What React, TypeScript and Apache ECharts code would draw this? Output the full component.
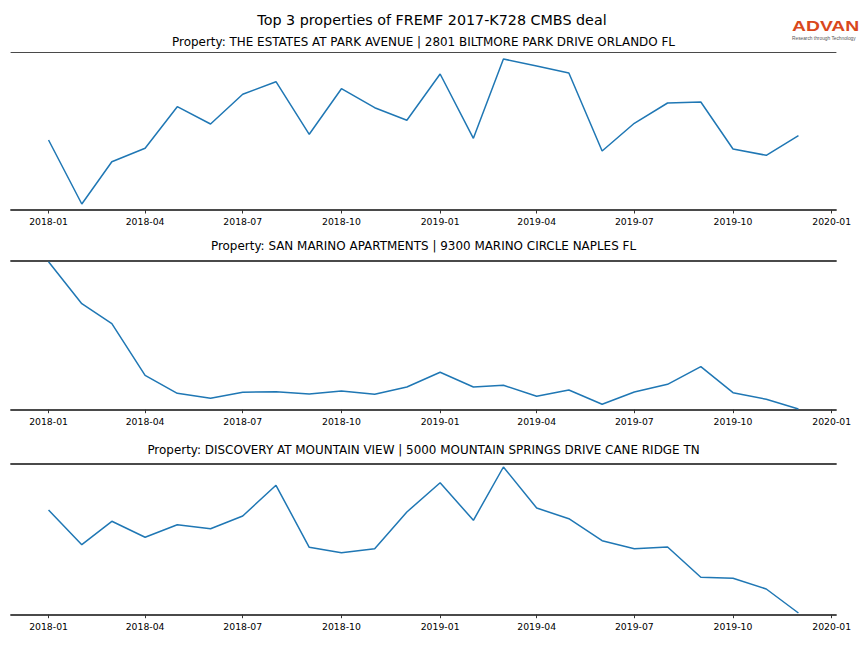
import React, { useEffect, useRef } from "react";
import * as echarts from "echarts";

const months = [
  "2018-01", "2018-02", "2018-03", "2018-04", "2018-05", "2018-06",
  "2018-07", "2018-08", "2018-09", "2018-10", "2018-11", "2018-12",
  "2019-01", "2019-02", "2019-03", "2019-04", "2019-05", "2019-06",
  "2019-07", "2019-08", "2019-09", "2019-10", "2019-11", "2019-12",
];

const tickLabels = [
  "2018-01", "2018-04", "2018-07", "2018-10",
  "2019-01", "2019-04", "2019-07", "2019-10", "2020-01",
];

const propertyTitles = [
  "Property: THE ESTATES AT PARK AVENUE | 2801 BILTMORE PARK DRIVE ORLANDO FL",
  "Property: SAN MARINO APARTMENTS | 9300 MARINO CIRCLE NAPLES FL",
  "Property: DISCOVERY AT MOUNTAIN VIEW | 5000 MOUNTAIN SPRINGS DRIVE CANE RIDGE TN",
];

const estatesValues = [
  700, 60, 483, 617, 1033, 860, 1157, 1283, 757, 1213, 1023, 897,
  1360, 717, 1510, 1440, 1370, 590, 867, 1070, 1080, 610, 547, 743,
];
const sanMarinoValues = [
  1480, 1060, 860, 344, 164, 114, 174, 180, 157, 187, 154, 227,
  374, 227, 244, 134, 197, 54, 177, 254, 430, 170, 104, 7,
];
const discoveryValues = [
  1047, 700, 934, 774, 900, 860, 987, 1294, 674, 620, 660, 1027,
  1320, 944, 1477, 1067, 960, 740, 660, 677, 374, 364, 257, 17,
];

const seriesValues = [estatesValues, sanMarinoValues, discoveryValues];
const yMaxes = [1577, 1490, 1510];

const toTs = (s: string) => {
  const [y, m] = s.split("-").map(Number);
  return Date.UTC(y, m - 1, 1);
};
const fmt = (v: number) => {
  const d = new Date(v);
  const m = d.getUTCMonth() + 1;
  return `${d.getUTCFullYear()}-${m < 10 ? "0" + m : m}`;
};

export default function App() {
  const ref = useRef<HTMLDivElement>(null);
  useEffect(() => {
    if (!ref.current) return;
    const chart = echarts.init(ref.current, null, { renderer: "svg" });
    const font = "DejaVu Sans";
    const xMin = Date.UTC(2017, 10, 27);
    const xMax = Date.UTC(2020, 0, 5);
    const tickTs = tickLabels.map(toTs);
    const grids = [
      { left: 11, width: 825, top: 52.3, height: 157.7 },
      { left: 11, width: 825, top: 260.7, height: 149 },
      { left: 11, width: 825, top: 463.7, height: 151 },
    ];
    const spine = "#4a4a4a";
    const bottomAxes = grids.map((_, i) => ({
      type: "value",
      gridIndex: i,
      position: "bottom",
      min: xMin,
      max: xMax,
      splitLine: { show: false },
      axisLine: { show: true, lineStyle: { color: spine, width: 1.8 } },
      axisTick: {
        show: true,
        length: 3.5,
        customValues: tickTs,
        lineStyle: { color: "#333", width: 1 },
      },
      axisLabel: {
        show: true,
        customValues: tickTs,
        formatter: (v: number) => fmt(v),
        fontFamily: font,
        fontSize: 9.3,
        color: "#000",
        margin: 7,
        hideOverlap: false,
      },
    }));
    const topAxes = grids.map((_, i) => ({
      type: "value",
      gridIndex: i,
      position: "top",
      min: 0,
      max: 1,
      splitLine: { show: false },
      axisTick: { show: false },
      axisLabel: { show: false },
      axisLine: {
        show: true,
        onZero: false,
        lineStyle: { color: spine, width: i === 0 ? 1 : 1.8 },
      },
    }));
    const yAxes = grids.map((_, i) => ({
      type: "value",
      gridIndex: i,
      min: 0,
      max: yMaxes[i],
      show: false,
    }));
    const series = seriesValues.map((vals, i) => ({
      type: "line",
      xAxisIndex: i,
      yAxisIndex: i,
      data: months.map((m, j) => [toTs(m), vals[j]]),
      showSymbol: false,
      symbol: "none",
      lineStyle: { color: "#1f77b4", width: 1.5 },
      clip: false,
    }));
    const subtitleY = [42, 246, 450];
    const graphics: any[] = [
      {
        type: "text",
        x: 432,
        y: 19.5,
        style: {
          text: "Top 3 properties of FREMF 2017-K728 CMBS deal",
          fontFamily: font,
          fontSize: 14.3,
          fill: "#000",
          textAlign: "center",
          textVerticalAlign: "middle",
        },
      },
      ...propertyTitles.map((t, i) => ({
        type: "text",
        x: 423.5,
        y: subtitleY[i],
        style: {
          text: t,
          fontFamily: font,
          fontSize: 11.95,
          fill: "#000",
          textAlign: "center",
          textVerticalAlign: "middle",
        },
      })),
      {
        type: "text",
        x: 792,
        y: 26,
        scaleX: 1.38,
        style: {
          text: "ADVAN",
          fontFamily: "Liberation Sans",
          fontWeight: "bold",
          fontSize: 14,
          fill: "#d9481c",
          textAlign: "left",
          textVerticalAlign: "middle",
        },
      },
      {
        type: "text",
        x: 792,
        y: 38.3,
        style: {
          text: "Research through Technology",
          fontFamily: "Liberation Sans",
          fontSize: 4.8,
          fill: "#555",
          textAlign: "left",
          textVerticalAlign: "middle",
        },
      },
    ];
    chart.setOption({
      animation: false,
      backgroundColor: "#fff",
      grid: grids,
      xAxis: [...bottomAxes, ...topAxes],
      yAxis: yAxes,
      series,
      graphic: graphics,
    } as any);
    return () => chart.dispose();
  }, []);
  return (
    <div
      ref={ref}
      style={{ position: "fixed", left: 0, top: 0, width: 864, height: 648 }}
    />
  );
}
